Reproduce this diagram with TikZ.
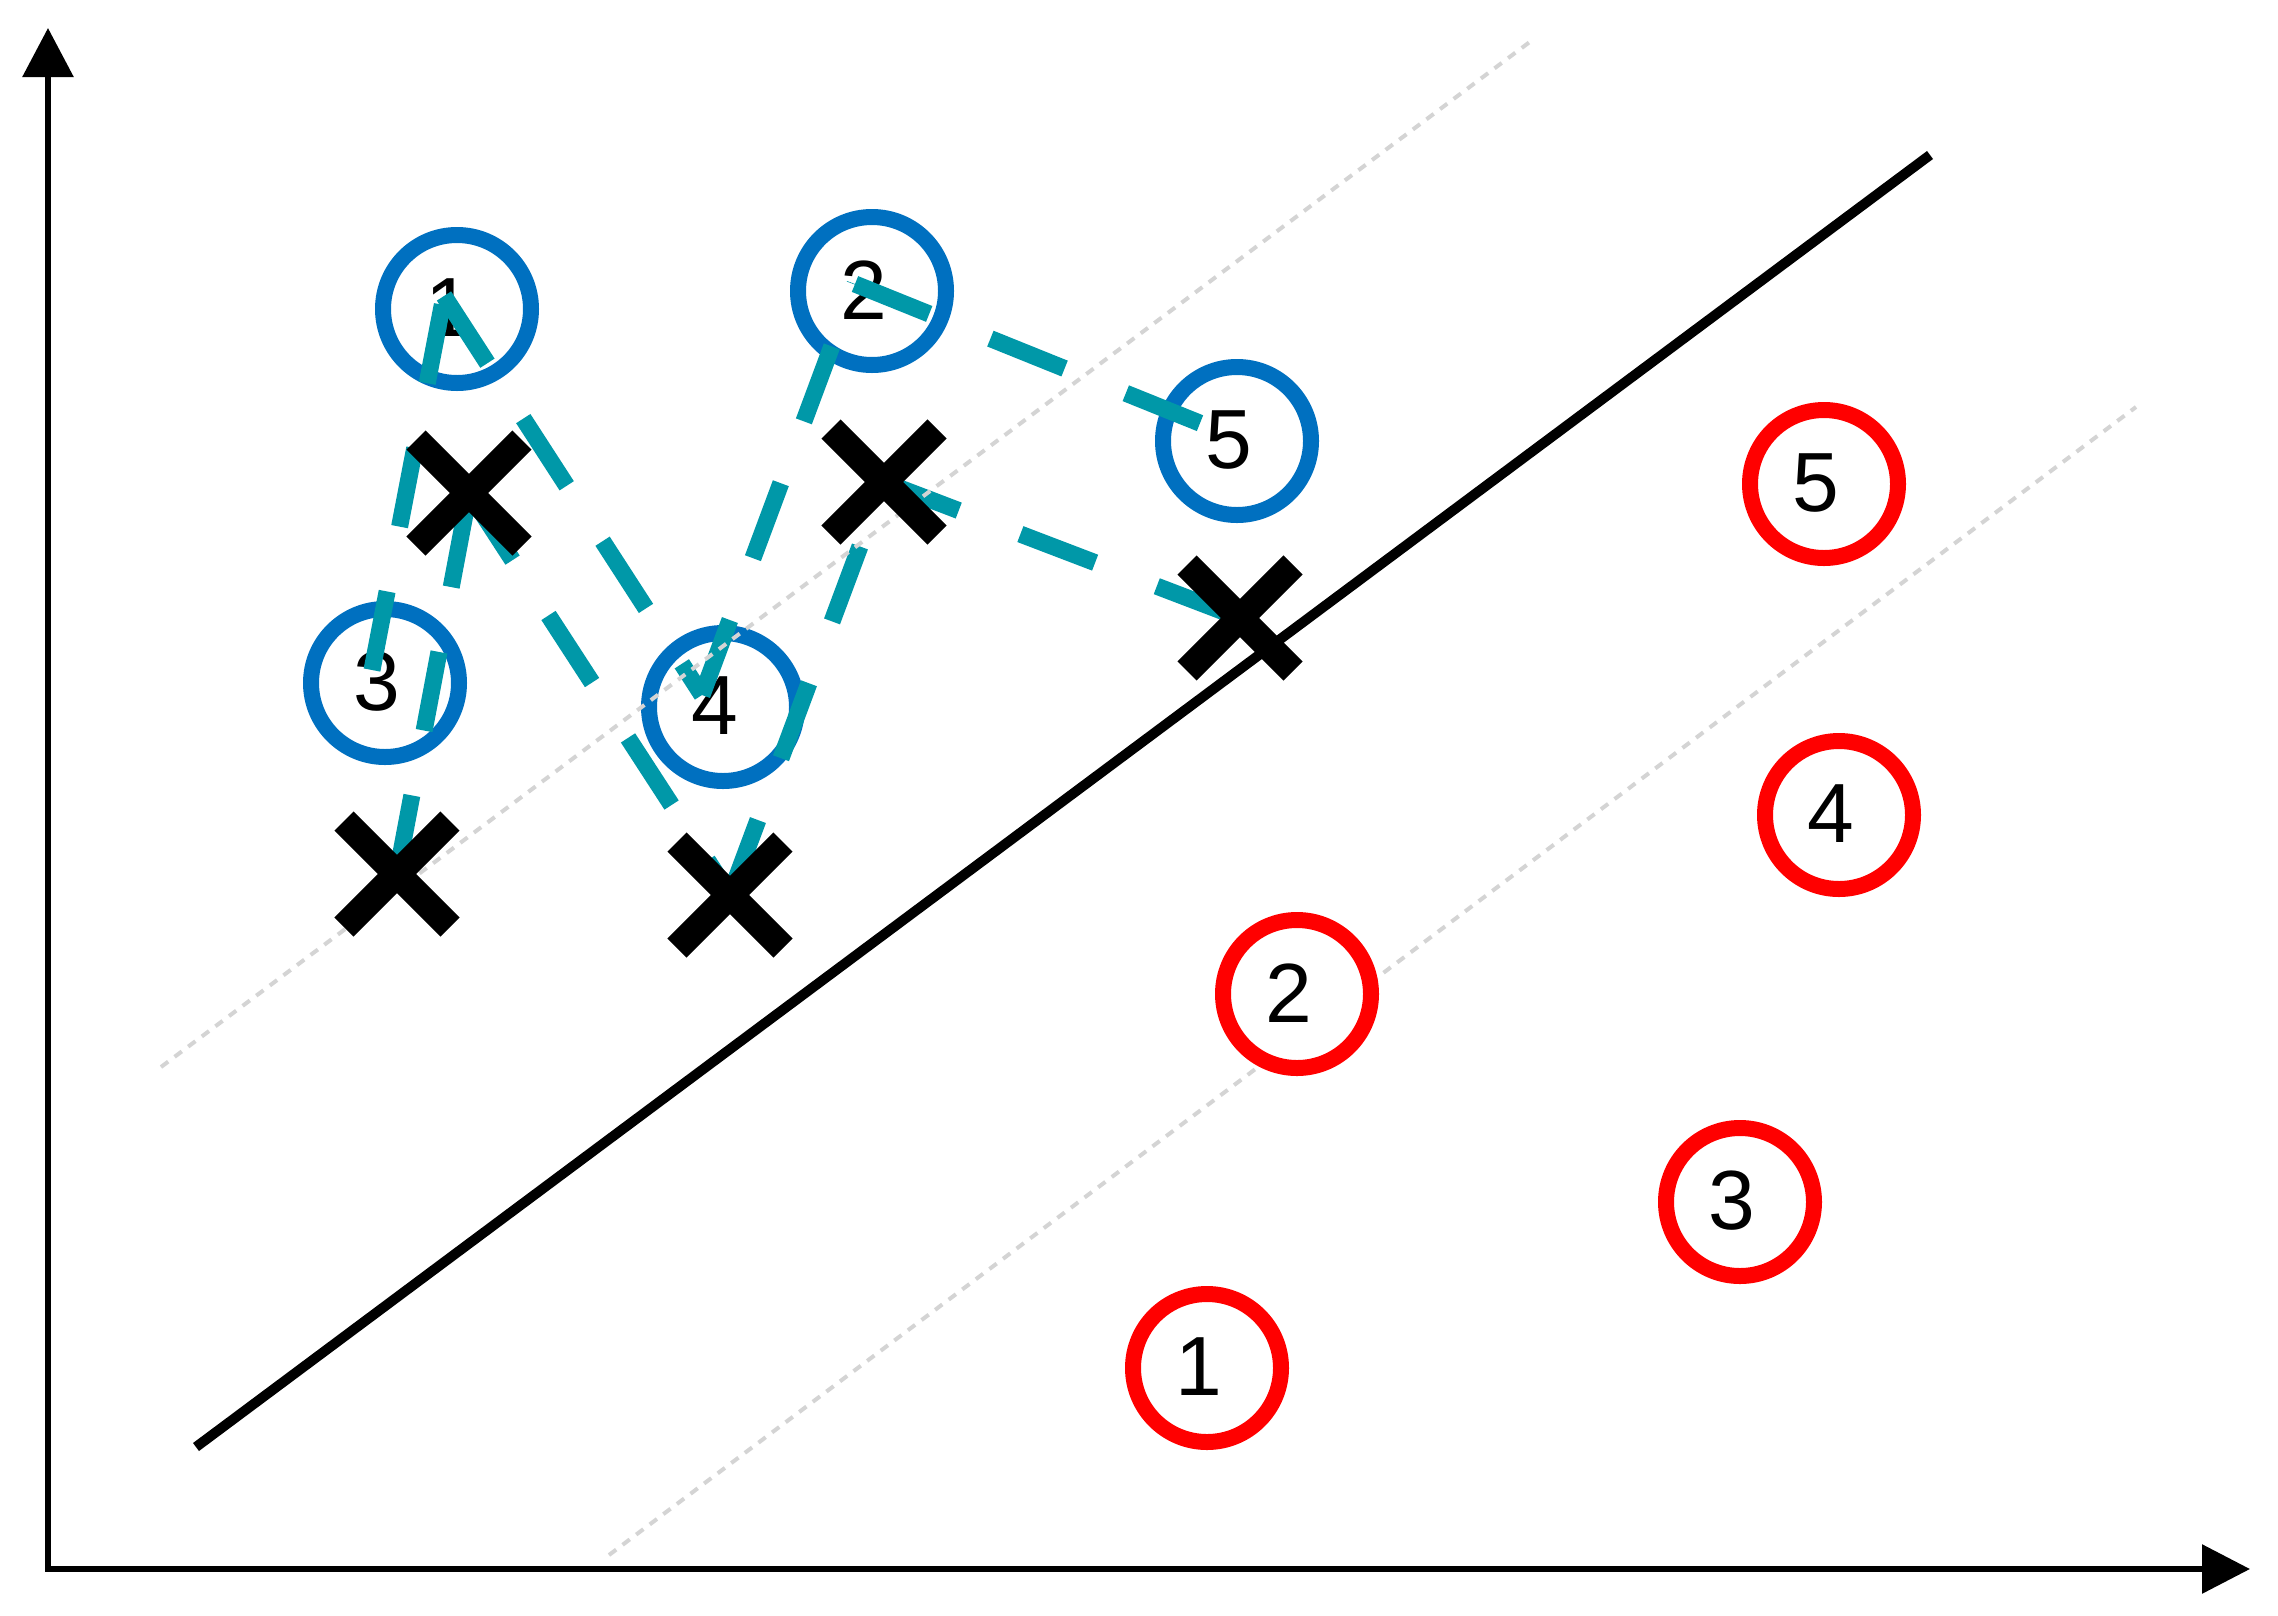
\documentclass[tikz,border=0pt]{standalone}
\usepackage{fontspec}
\setmainfont{Liberation Sans}
\usetikzlibrary{arrows.meta,shapes.misc,calc}
\definecolor{bluering}{RGB}{0,112,192}
\definecolor{redring}{RGB}{255,0,0}
\definecolor{linkteal}{RGB}{0,152,168}
\definecolor{guidegray}{RGB}{212,212,212}
\begin{document}
\begin{tikzpicture}[x=1pt,y=-1pt,
  bluec/.style={circle, draw=bluering, line width=16pt, minimum size=148pt, inner sep=0pt, outer sep=0pt},
  redc/.style={circle, draw=redring, fill=white, line width=16pt, minimum size=148pt, inner sep=0pt, outer sep=0pt},
  digit/.style={inner sep=0pt, text=black, font=\fontsize{84}{84}\selectfont},
  xmark/.style={cross out, draw=black, line width=27pt, minimum size=106pt, inner sep=0pt, outer sep=0pt},
  link/.style={draw=linkteal, line width=17pt, dash pattern=on 80pt off 66pt},
  guide/.style={draw=guidegray, line width=4pt, dash pattern=on 9pt off 8pt},
  axisline/.style={draw=black, line width=6pt},
  separator/.style={draw=black, line width=10pt}]
\useasboundingbox (0,0) rectangle (2278,1615);
\fill[white] (0,0) rectangle (2278,1615);

% blue circles
\node[bluec] (b1) at (457,309) {};
\node[bluec] (b2) at (872,291) {};
\node[bluec] (b3) at (385,683) {};
\node[bluec] (b4) at (723,707) {};
\node[bluec] (b5) at (1237,441) {};
\node[digit] (tb1) at ($(b1)+(-8,-1)$) {1};
\node[digit] (tb2) at ($(b2)+(-8,-1)$) {2};
\node[digit] (tb3) at ($(b3)+(-8,-1)$) {3};
\node[digit] (tb4) at ($(b4)+(-8,-1)$) {4};
\node[digit] (tb5) at ($(b5)+(-8,-1)$) {5};

% X marker positions
\coordinate (x1) at (469,493);
\coordinate (x2) at (884,482);
\coordinate (x3) at (397,874);
\coordinate (x4) at (730,895);
\coordinate (x5) at (1240,618);

% vertices of the blue sequence
\coordinate (q1) at (444,296);
\coordinate (q2) at (855,284);
\coordinate (q3) at (372,670);
\coordinate (q4) at (702,695);
\coordinate (q5) at (1212,428);

% teal dashed sequences
\draw[link] (q3) -- (q1);
\draw[link] (q1) -- (q4);
\draw[link] (q4) -- (q2);
\draw[link] (q2) -- (q5);
\draw[link] (x3) -- (x1);
\draw[link] (x1) -- (x4);
\draw[link] (x4) -- (x2);
\draw[link] (x2) -- (x5);

% margin guides
\coordinate (gu1) at (161,1067);
\coordinate (gu2) at (1535,38);
\coordinate (gl1) at (609,1555);
\coordinate (gl2) at (2136,407);
\draw[guide] (gu1) -- (gu2);
\draw[guide] (gl1) -- (gl2);

% red circles
\node[redc] (r1) at (1207,1368) {};
\node[redc] (r2) at (1297,994) {};
\node[redc] (r3) at (1740,1202) {};
\node[redc] (r4) at (1839,815) {};
\node[redc] (r5) at (1824,484) {};
\node[digit] (tr1) at ($(r1)+(-8,-1)$) {1};
\node[digit] (tr2) at ($(r2)+(-8,-1)$) {2};
\node[digit] (tr3) at ($(r3)+(-8,-1)$) {3};
\node[digit] (tr4) at ($(r4)+(-8,-1)$) {4};
\node[digit] (tr5) at ($(r5)+(-8,-1)$) {5};

% separating line
\coordinate (s1) at (196,1447);
\coordinate (s2) at (1930,155);
\draw[separator] (s1) -- (s2);

% X marks
\node[xmark] (X1) at (x1) {};
\node[xmark] (X2) at (x2) {};
\node[xmark] (X3) at (x3) {};
\node[xmark] (X4) at (x4) {};
\node[xmark] (X5) at (x5) {};

% axes
\coordinate (ytip) at (48,28);
\coordinate (origin) at (48,1569);
\coordinate (xtip) at (2250,1569);
\draw[axisline, {Triangle[length=49pt,width=50pt]}-{Triangle[length=48pt,width=48pt]}] (ytip) -- (origin) -- (xtip);
\end{tikzpicture}
\end{document}
